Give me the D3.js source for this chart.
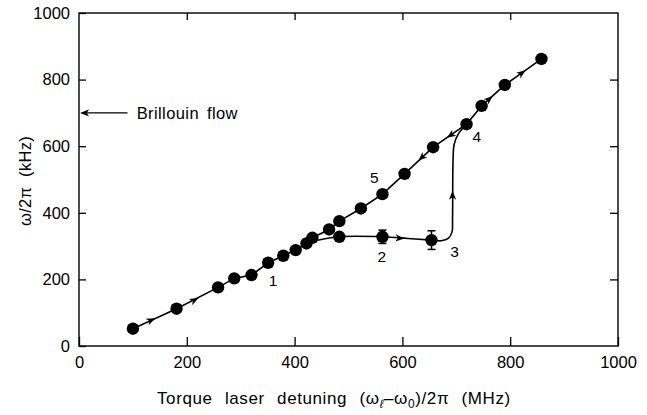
<!DOCTYPE html>
<html><head><meta charset="utf-8">
<script src="https://cdn.jsdelivr.net/npm/d3@7"></script>
<style>
html,body{margin:0;padding:0;background:#fff;}
text{font-family:"Liberation Sans",Arial,Helvetica,sans-serif;fill:#000;}
</style></head>
<body><svg id="c" width="647" height="415"></svg>
<script>
// ---- data ----
const xTicks = [0, 200, 400, 600, 800, 1000];
const yTicks = [0, 200, 400, 600, 800, 1000];
// main branch (measured points)
const mainX = [100, 181, 258, 288, 320, 351, 379, 402, 422, 433, 464, 483, 523, 563, 604, 657, 719, 747, 790, 858];
const mainY = [52, 112, 176, 203, 213, 250, 271, 288, 308, 325, 350, 375, 413, 456, 517, 597, 666, 721, 784, 862];
// lower branch measured points with error bars
const lowX = [483, 563, 654];
const lowY = [328, 328, 318];
const lowErr = [0, 20, 28];
// lower branch guide curve
const branchX = [422, 447, 483, 563, 610, 654, 672, 685, 692, 693, 694, 696, 703, 719];
const branchY = [308, 319, 328, 328, 323, 318, 316, 323, 342, 380, 560, 605, 635, 666];
// direction arrows: position and point they head toward
const arrowX = [140, 220, 602, 693, 766, 827, 684, 631];
const arrowY = [82, 143, 323, 463, 749, 826, 627, 558];
const arrowToX = [181, 258, 654, 693, 790, 858, 657, 604];
const arrowToY = [112, 176, 318, 560, 784, 862, 597, 517];
// numbered labels
const labelText = ["1", "2", "3", "4", "5"];
const labelX = [360, 562, 697, 738, 548];
const labelY = [198, 268, 285, 629, 506];
// Brillouin flow annotation
const brillouinY = 700;
const brillouinText = "Brillouin flow";

// ---- layout ----
const svg = d3.select("#c");
const L = 79, R = 618, T = 13, B = 346;
const x = d3.scaleLinear().domain([0, 1000]).range([L, R]);
const y = d3.scaleLinear().domain([0, 1000]).range([B, T]);
const FS = 16.5;

// axes
const gB = svg.append("g").attr("transform", `translate(0,${B})`)
  .call(d3.axisBottom(x).tickValues(xTicks).tickSize(-9).tickSizeOuter(0).tickPadding(10).tickFormat(d3.format("d")));
const gL = svg.append("g").attr("transform", `translate(${L},0)`)
  .call(d3.axisLeft(y).tickValues(yTicks).tickSize(-7).tickSizeOuter(0).tickPadding(9).tickFormat(d3.format("d")));
const gT = svg.append("g").attr("transform", `translate(0,${T})`)
  .call(d3.axisTop(x).tickValues(xTicks.slice(1, -1)).tickSize(-7).tickSizeOuter(0).tickFormat(""));
const gR = svg.append("g").attr("transform", `translate(${R},0)`)
  .call(d3.axisRight(y).tickValues(yTicks.slice(1, -1)).tickSize(-8).tickSizeOuter(0).tickFormat(""));
[gB, gL, gT, gR].forEach(g => {
  g.select(".domain").remove();
  g.selectAll(".tick line").attr("stroke", "#000").attr("stroke-width", 1.3);
  g.selectAll(".tick text").attr("font-size", FS).attr("font-family", '"Liberation Sans",Arial,sans-serif').attr("fill", "#000");
});
svg.append("rect").attr("x", L).attr("y", T).attr("width", R - L).attr("height", B - T)
  .attr("fill", "none").attr("stroke", "#000").attr("stroke-width", 1.4);

// axis titles
const xt = svg.append("text").attr("x", 157).attr("y", 404).attr("font-size", 17)
  .attr("letter-spacing", 0.6).attr("word-spacing", 7);
xt.append("tspan").text("Torque laser detuning (ω");
xt.append("tspan").attr("font-size", 12).attr("dy", 4).attr("font-style", "italic").text("ℓ");
xt.append("tspan").attr("dy", -4).text("–ω");
xt.append("tspan").attr("font-size", 12).attr("dy", 4).text("0");
xt.append("tspan").attr("dy", -4).text(")/2π (MHz)");

svg.append("text").attr("transform", `translate(31,181) rotate(-90)`)
  .attr("text-anchor", "middle").attr("font-size", FS).attr("letter-spacing", 0.3).attr("word-spacing", 5).text("ω/2π (kHz)");

// lines
const line = d3.line().x(d => x(d[0])).y(d => y(d[1]));
svg.append("path").datum(mainX.map((v, i) => [v, mainY[i]]))
  .attr("d", line).attr("fill", "none").attr("stroke", "#000").attr("stroke-width", 1.6);
svg.append("path").datum(branchX.map((v, i) => [v, branchY[i]]))
  .attr("d", line.curve(d3.curveCatmullRom.alpha(0.5))).attr("fill", "none").attr("stroke", "#000").attr("stroke-width", 1.6);

// error bars
lowX.forEach((v, i) => {
  if (!lowErr[i]) return;
  const g = svg.append("g").attr("stroke", "#000").attr("stroke-width", 1.5);
  g.append("line").attr("x1", x(v)).attr("x2", x(v)).attr("y1", y(lowY[i] - lowErr[i])).attr("y2", y(lowY[i] + lowErr[i]));
  [lowY[i] - lowErr[i], lowY[i] + lowErr[i]].forEach(e =>
    g.append("line").attr("x1", x(v) - 4).attr("x2", x(v) + 4).attr("y1", y(e)).attr("y2", y(e)));
});

// points
svg.append("g").selectAll("circle").data(mainX.map((v, i) => [v, mainY[i]]).concat(lowX.map((v, i) => [v, lowY[i]])))
  .join("circle").attr("cx", d => x(d[0])).attr("cy", d => y(d[1])).attr("r", 6.2).attr("fill", "#000");

// arrows
const head = "M1,0 L-8,-3.6 L-5.5,0 L-8,3.6 Z";
arrowX.forEach((v, i) => {
  const px = x(v), py = y(arrowY[i]);
  const ang = Math.atan2(y(arrowToY[i]) - py, x(arrowToX[i]) - px) * 180 / Math.PI;
  svg.append("path").attr("d", head).attr("fill", "#000")
    .attr("transform", `translate(${px},${py}) rotate(${ang})`);
});

// labels
labelText.forEach((t, i) => {
  svg.append("text").attr("x", x(labelX[i])).attr("y", y(labelY[i])).attr("dy", "0.36em")
    .attr("text-anchor", "middle").attr("font-size", 15.5).text(t);
});

// Brillouin flow
const by = y(brillouinY);
svg.append("line").attr("x1", x(5)).attr("x2", x(90)).attr("y1", by).attr("y2", by)
  .attr("stroke", "#000").attr("stroke-width", 1.4);
svg.append("path").attr("d", head).attr("fill", "#000")
  .attr("transform", `translate(${x(4)},${by}) rotate(180)`);
svg.append("text").attr("x", x(107)).attr("y", by).attr("dy", "0.36em").attr("font-size", FS)
  .attr("letter-spacing", 0.4).attr("word-spacing", 3).text(brillouinText);
</script></body></html>
